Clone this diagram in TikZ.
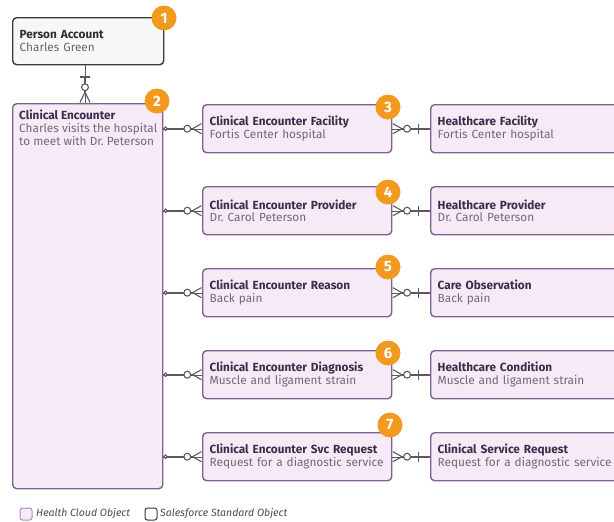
\documentclass[tikz,border=0pt]{standalone}
\usepackage{fontspec}
\setmainfont{Fira Sans}
\usetikzlibrary{arrows.meta}
\definecolor{hcfill}{HTML}{F5EAF5}
\definecolor{hcdraw}{HTML}{80608F}
\definecolor{sffill}{HTML}{F7F7F7}
\definecolor{sfdraw}{HTML}{3A3A3A}
\definecolor{hctext}{HTML}{3D2C4C}
\definecolor{sftext}{HTML}{2E2E2E}
\definecolor{badge}{HTML}{F29A1F}
\definecolor{relc}{HTML}{5E5663}
\tikzset{
    hcobj/.style = {rectangle, rounded corners=4pt, line width=1.4pt, draw=hcdraw, fill=hcfill, anchor=north west,
                    minimum width=189pt, minimum height=48pt, text width=175pt, align=left, inner xsep=7pt,
                    text=hctext, font=\entfont},
    sfobj/.style = {hcobj, draw=sfdraw, fill=sffill, text=sftext, minimum width=151pt, minimum height=47pt, text width=137pt},
    txt/.style = {anchor=north west, align=left, inner xsep=7pt, inner ysep=7pt, text=hctext, font=\entfont},
    num/.style = {circle, fill=badge, text=white, minimum size=25pt, inner sep=0pt, font=\bfseries\fontsize{15}{15}\selectfont},
    key/.style = {rectangle, rounded corners=2.5pt, line width=1pt, minimum size=12pt, inner sep=0pt},
    keytxt/.style = {anchor=west, inner sep=0pt, text=sftext!85, font=\itshape\fontsize{10.5}{12}\selectfont},
    rel/.style = {draw=relc, line width=1.1pt, preaction={draw=relc, arrows=-}},
    lrel/.style = {rel, arrows={Circle[fill=white,length=4.5pt]}-{Circle[fill=white,length=8pt] Straight Barb[reversed,length=9pt,width=10pt]}},
    rrel/.style = {rel, arrows={Straight Barb[reversed,length=9pt,width=10pt] Circle[fill=white,length=8pt]}-{Bar[width=10pt] Rectangle[length=11pt,width=1pt,line width=0.01pt]}},
    vrel/.style = {rel, arrows={Rectangle[length=11pt,width=1pt,line width=0.01pt] Bar[width=10pt]}-{Circle[fill=white,length=8pt] Straight Barb[reversed,length=10pt,width=10pt]}}
}
\newcommand{\entfont}{\fontsize{11.8}{12.8}\selectfont}
\newcommand{\Ti}[1]{{\bfseries #1}}
\newcommand{\Su}[1]{{\color{.!72!white}#1}}

\begin{document}
\begin{tikzpicture}[x=1pt,y=-1pt]
\fill[white] (0,0) rectangle (614,522);
\useasboundingbox (0,0) rectangle (614,522);
\clip (0,0) rectangle (614,522);
% objects
\node[sfobj] (pa) at (12,17) {\Ti{Person Account}\\\Su{Charles Green}};
\node[hcobj, minimum width=150pt, text width=136pt, minimum height=385pt] (ce) at (12,103) {};
\node[txt] (cet) at (12,103) {\Ti{Clinical Encounter}\\\Su{Charles visits the hospital}\\\Su{to meet with Dr.\ Peterson}};
%
\node[hcobj] (m1) at (202,104) {\Ti{Clinical Encounter Facility}\\\Su{Fortis Center hospital}};
\node[hcobj] (m2) at (202,186) {\Ti{Clinical Encounter Provider}\\\Su{Dr.\ Carol Peterson}};
\node[hcobj] (m3) at (202,268) {\Ti{Clinical Encounter Reason}\\\Su{Back pain}};
\node[hcobj] (m4) at (202,350) {\Ti{Clinical Encounter Diagnosis}\\\Su{Muscle and ligament strain}};
\node[hcobj] (m5) at (202,432) {\Ti{Clinical Encounter Svc Request}\\\Su{Request for a diagnostic service}};
%
\node[hcobj] (r1) at (430,104) {\Ti{Healthcare Facility}\\\Su{Fortis Center hospital}};
\node[hcobj] (r2) at (430,186) {\Ti{Healthcare Provider}\\\Su{Dr.\ Carol Peterson}};
\node[hcobj] (r3) at (430,268) {\Ti{Care Observation}\\\Su{Back pain}};
\node[hcobj] (r4) at (430,350) {\Ti{Healthcare Condition}\\\Su{Muscle and ligament strain}};
\node[hcobj] (r5) at (430,432) {\Ti{Clinical Service Request}\\\Su{Request for a diagnostic service}};
% relations
\draw[vrel] (pa.south -| 85,0) -- (ce.north -| 85,0);
\draw[lrel] (ce.east |- m1.west) -- (m1.west);
\draw[lrel] (ce.east |- m2.west) -- (m2.west);
\draw[lrel] (ce.east |- m3.west) -- (m3.west);
\draw[lrel] (ce.east |- m4.west) -- (m4.west);
\draw[lrel] (ce.east |- m5.west) -- (m5.west);
\draw[rrel] (m1.east) -- (r1.west);
\draw[rrel] (m2.east) -- (r2.west);
\draw[rrel] (m3.east) -- (r3.west);
\draw[rrel] (m4.east) -- (r4.west);
\draw[rrel] (m5.east) -- (r5.west);
% badges
\node[num] (n1) at (164,18) {1};
\node[num] (n2) at (157,101) {2};
\node[num] (n3) at (388,107) {3};
\node[num] (n4) at (388,192) {4};
\node[num] (n5) at (388,267) {5};
\node[num] (n6) at (388,353) {6};
\node[num] (n7) at (390,425) {7};
% legend
\node[key, draw=hcdraw!70, fill=hcfill] (k1) at (26,514) {};
\node[keytxt] (k1t) at (36,514) {Health Cloud Object};
\node[key, draw=sfdraw, fill=white] (k2) at (151,514) {};
\node[keytxt] (k2t) at (160,514) {Salesforce Standard Object};
\end{tikzpicture}
\end{document}
